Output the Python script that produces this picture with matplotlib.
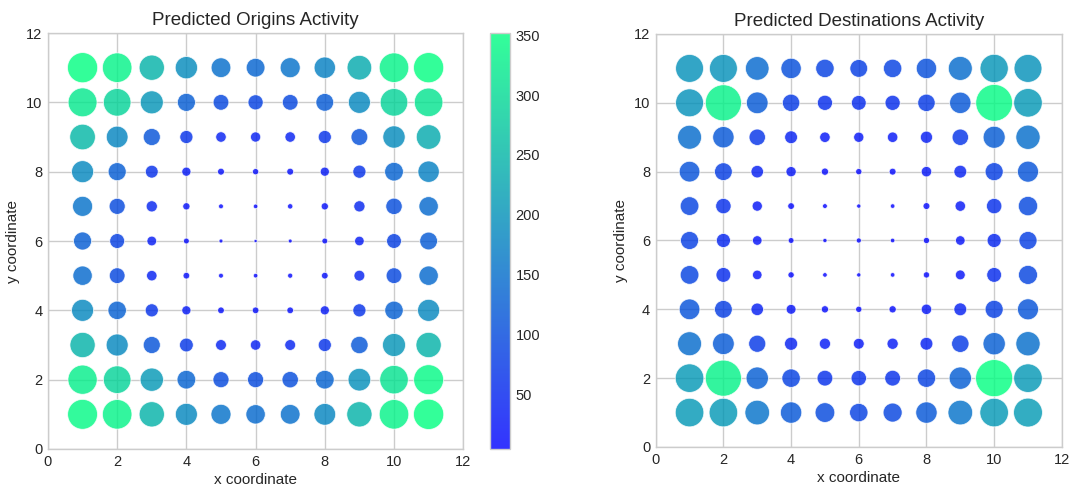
import numpy as np
import matplotlib.pyplot as plt

# Дані: рядки зверху вниз (y = 11 ... 1), стовпці x = 1 ... 11
x_coords = list(range(1, 12))
y_coords = list(range(11, 0, -1))

origins = [
    [350, 335, 245, 191, 149, 135, 154, 175, 233, 335, 350],
    [320, 292, 203, 125, 95, 88, 95, 121, 186, 292, 313],
    [252, 181, 112, 66, 42, 40, 42, 66, 108, 191, 233],
    [186, 125, 63, 32, 18, 15, 18, 32, 66, 134, 175],
    [154, 99, 48, 20, 9, 8, 11, 20, 48, 103, 144],
    [125, 85, 36, 13, 6, 4, 6, 13, 35, 84, 121],
    [144, 95, 42, 17, 9, 8, 10, 17, 45, 95, 144],
    [186, 130, 66, 32, 17, 17, 17, 32, 66, 130, 186],
    [245, 186, 112, 73, 45, 42, 45, 66, 116, 203, 245],
    [328, 292, 208, 134, 99, 99, 103, 134, 197, 312, 343],
    [343, 335, 245, 186, 154, 144, 149, 181, 245, 335, 352],
]

destinations = [
    [299, 299, 214, 159, 130, 121, 130, 159, 220, 306, 299],
    [299, 500, 180, 116, 88, 84, 88, 116, 175, 519, 313],
    [220, 175, 103, 63, 42, 40, 42, 57, 103, 186, 226],
    [164, 121, 60, 40, 20, 15, 18, 42, 63, 125, 169],
    [134, 91, 40, 17, 9, 7, 8, 18, 42, 91, 144],
    [125, 76, 35, 13, 7, 10, 8, 15, 35, 76, 125],
    [134, 84, 35, 15, 8, 7, 8, 15, 37, 84, 139],
    [164, 121, 60, 37, 20, 15, 20, 42, 63, 125, 169],
    [220, 180, 112, 66, 48, 45, 48, 63, 116, 191, 226],
    [313, 500, 191, 130, 95, 91, 95, 130, 191, 528, 313],
    [313, 313, 233, 175, 149, 130, 139, 175, 233, 313, 320],
]

ticks = [0, 2, 4, 6, 8, 10, 12]
cbar_ticks = [50, 100, 150, 200, 250, 300, 350]

plt.rcParams['font.family'] = ['Liberation Sans', 'DejaVu Sans']
plt.rcParams['text.color'] = '#262626'
plt.rcParams['xtick.color'] = '#262626'
plt.rcParams['ytick.color'] = '#262626'
plt.rcParams['axes.labelcolor'] = '#262626'

X, Y = np.meshgrid(x_coords, y_coords)
size_scale = 1.35

fig = plt.figure(figsize=(10.73, 4.92), dpi=100)
ax1 = fig.add_axes([0.0447, 0.0874, 0.387, 0.8455])
cax = fig.add_axes([0.4567, 0.0874, 0.0186, 0.8455])
ax2 = fig.add_axes([0.6111, 0.0915, 0.3785, 0.8394])


def draw(ax, values, title):
    v = np.array(values, dtype=float)
    sc = ax.scatter(X.ravel(), Y.ravel(), s=v.ravel() * size_scale, c=v.ravel(),
                    cmap='winter', alpha=0.8, edgecolors='white', linewidths=0.6,
                    zorder=3)
    ax.set_xlim(0, 12)
    ax.set_ylim(0, 12)
    ax.set_xticks(ticks)
    ax.set_yticks(ticks)
    ax.grid(True, color='#cccccc', linewidth=1.0, zorder=0)
    ax.set_axisbelow(True)
    for sp in ax.spines.values():
        sp.set_color('#cccccc')
        sp.set_linewidth(1.0)
    ax.tick_params(length=0, labelsize=10.5, pad=4)
    ax.set_title(title, fontsize=13.5, pad=6)
    ax.set_xlabel('x coordinate', fontsize=11, labelpad=3)
    ax.set_ylabel('y coordinate', fontsize=11, labelpad=4)
    return sc


sc1 = draw(ax1, origins, 'Predicted Origins Activity')
draw(ax2, destinations, 'Predicted Destinations Activity')

cb = fig.colorbar(sc1, cax=cax)
cb.set_ticks(cbar_ticks)
cb.ax.tick_params(length=0, labelsize=10.5, pad=4)
cb.outline.set_edgecolor('#cccccc')
cb.outline.set_linewidth(1.0)

fig.savefig('out.png', dpi=100)
